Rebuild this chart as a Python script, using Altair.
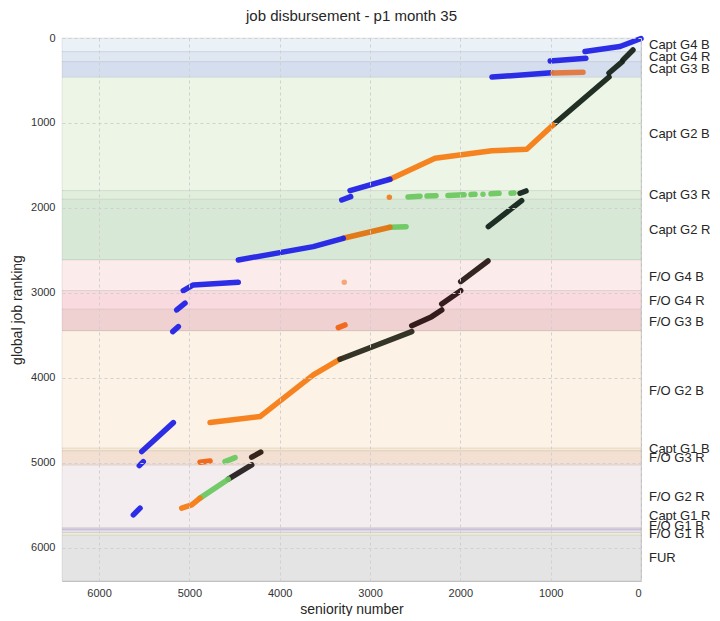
import altair as alt
import pandas as pd

# ---- background job bands (global job ranking ranges) ----
band_names = ["Capt G4 B", "Capt G4 R", "Capt G3 B", "Capt G2 B", "Capt G3 R", "Capt G2 R",
              "F/O G4 B", "F/O G4 R", "F/O G3 B", "F/O G2 B", "Capt G1 B", "F/O G3 R",
              "F/O G2 R", "Capt G1 R", "F/O G1 B", "F/O G1 R", "FUR"]
band_start = [0, 161, 279, 463, 1796, 1898, 2612, 2973, 3192, 3447, 4827, 4859, 5027, 5765, 5790, 5825, 5850]
band_end = [161, 279, 463, 1796, 1898, 2612, 2973, 3192, 3447, 4827, 4859, 5027, 5765, 5790, 5825, 5850, 6390]
band_colors = ["#eaf1f7", "#dfe8f2", "#d4deef", "#ecf5e6", "#e1eedc", "#d7e9d6",
               "#fbeceb", "#f9dade", "#f0d1d1", "#fcf3e6", "#f8e9d2", "#f4e0d3",
               "#f3edf0", "#d9d1e3", "#e6dfed", "#f8f5d5", "#e4e4e4"]
label_y = [82, 220, 368, 1133, 1847, 2259, 2808, 3094, 3338, 4150, 4839, 4945,
           5397, 5620, 5741, 5839, 6114]

# ---- employee position traces (seniority number vs global job ranking) ----
seg_colors = [
    "#2222e6", "#2222e6", "#2222e6", "#e2773a",
    "#17241a", "#17241a", "#17241a",
    "#f57c14", "#2222e6", "#2222e6",
    "#6cc860", "#6cc860", "#6cc860", "#6cc860", "#6cc860", "#6cc860",
    "#13241a", "#13241a",
    "#6cc860", "#e07410", "#2222e6",
    "#2222e6", "#2222e6", "#2222e6", "#f06414",
    "#f57c14", "#2a2a1c", "#2a1212", "#2a1212", "#2a1a16",
    "#2222e6", "#2222e6", "#2222e6", "#f06414", "#6cc860",
    "#2a1a12", "#262020", "#6cc860", "#f57c14",
]
seg_xs = [
    [620, 232, 0], [1005, 610], [1650, 990], [974, 642],
    [974, 354], [354, 210], [199, 89],
    [2779, 2280, 1653, 1265, 974], [3221, 2779], [3313, 3214],
    [2579, 2446], [2369, 2269], [2137, 1959], [1882, 1838], [1660, 1572], [1439, 1406],
    [1339, 1273], [1690, 1321],
    [2779, 2601], [3296, 2779], [4458, 3628, 3296],
    [5067, 4956, 4458], [5140, 5048], [5184, 5122], [3351, 3277],
    [4771, 4218, 3628, 3332], [3332, 2538], [2538, 2317, 2206], [2206, 1996], [1996, 1694],
    [5527, 5177], [5554, 5510], [5620, 5546], [4882, 4771], [4605, 4494],
    [4310, 4210], [4569, 4310], [4882, 4569], [5085, 4974, 4882],
]
seg_ys = [
    [160, 100, 6], [272, 238], [460, 408], [412, 403],
    [1024, 459], [412, 282], [259, 141],
    [1662, 1415, 1326, 1309, 1024], [1796, 1662], [1906, 1867],
    [1870, 1862], [1860, 1855], [1852, 1845], [1842, 1840], [1833, 1828], [1826, 1824],
    [1827, 1800], [2220, 1914],
    [2227, 2220], [2357, 2227], [2612, 2455, 2357],
    [2973, 2906, 2874], [3200, 3121], [3455, 3397], [3408, 3377],
    [4526, 4455, 3965, 3780], [3780, 3455], [3385, 3279, 3200], [3130, 2973], [2867, 2624],
    [4867, 4526], [5032, 4985], [5612, 5533], [4992, 4977], [4985, 4938],
    [4933, 4874], [5192, 5024], [5415, 5192], [5533, 5494, 5415],
]
dot_x = [2786, 3285, 1749]
dot_y = [1874, 2874, 1838]
dot_colors = ["#f07a1a", "#f4a070", "#6cc860"]

X_MAX = 6410
Y_MAX = 6390
W, H = 579, 543

bands = pd.DataFrame({"name": band_names, "y0": band_start, "y1": band_end,
                      "c": band_colors, "ly": label_y})
rows = []
for i, (c, xs, ys) in enumerate(zip(seg_colors, seg_xs, seg_ys)):
    for k, (xv, yv) in enumerate(zip(xs, ys)):
        rows.append({"seg": i, "k": k, "x": xv, "y": yv, "c": c})
segs = pd.DataFrame(rows)
dots = pd.DataFrame({"x": dot_x, "y": dot_y, "c": dot_colors})

xs_scale = alt.Scale(domain=[X_MAX, 0], nice=False, zero=False)
ys_scale = alt.Scale(domain=[Y_MAX, 0], nice=False, zero=False)
x_axis = alt.Axis(title="seniority number", values=list(range(0, 7000, 1000)), format="d",
                  grid=True, gridDash=[3, 3], gridColor="#d0d0d0", ticks=False,
                  labelPadding=6, titlePadding=4, domain=False, zindex=1)
y_axis = alt.Axis(title="global job ranking", values=list(range(0, 7000, 1000)), format="d",
                  grid=True, gridDash=[3, 3], gridColor="#d0d0d0", ticks=False,
                  labelPadding=7, titlePadding=6, domain=False, zindex=1)

band_layer = alt.Chart(bands).mark_rect(stroke="#000000", strokeOpacity=0.07, strokeWidth=1).encode(
    x=alt.value(0), x2=alt.value(W),
    y=alt.Y("y0:Q", scale=ys_scale, axis=y_axis),
    y2="y1:Q",
    color=alt.Color("c:N", scale=None),
)
label_layer = alt.Chart(bands).mark_text(align="left", baseline="middle", fontSize=13,
                                          color="#262626", dx=0).encode(
    x=alt.value(W + 8),
    y=alt.Y("ly:Q", scale=ys_scale),
    text="name:N",
)
x_anchor = alt.Chart(dots).mark_point(opacity=0).encode(
    x=alt.X("x:Q", scale=xs_scale, axis=x_axis),
    y=alt.Y("y:Q", scale=ys_scale),
)
line_layer = alt.Chart(segs).mark_line(strokeWidth=5.5, strokeCap="round", strokeJoin="round",
                                       opacity=0.95).encode(
    x=alt.X("x:Q", scale=xs_scale),
    y=alt.Y("y:Q", scale=ys_scale),
    detail="seg:N",
    order="k:Q",
    color=alt.Color("c:N", scale=None),
)
dot_layer = alt.Chart(dots).mark_circle(size=30, opacity=0.9).encode(
    x=alt.X("x:Q", scale=xs_scale),
    y=alt.Y("y:Q", scale=ys_scale),
    color=alt.Color("c:N", scale=None),
)

chart = alt.layer(band_layer, x_anchor, line_layer, dot_layer, label_layer).properties(
    width=W, height=H,
    title=alt.TitleParams("job disbursement - p1 month 35", fontSize=15, fontWeight="normal",
                          color="#262626", offset=8, anchor="middle"),
    padding={"left": 2, "top": 1, "right": 0, "bottom": 0},
).configure(font="Liberation Sans").configure_axis(
    labelFontSize=11, labelColor="#333333", titleFontSize=14, titleColor="#262626",
    titleFontWeight="normal",
).configure_view(stroke="#c8c8c8", strokeWidth=1)

chart.save("out.html", embed_options={"renderer": "svg", "actions": False})
